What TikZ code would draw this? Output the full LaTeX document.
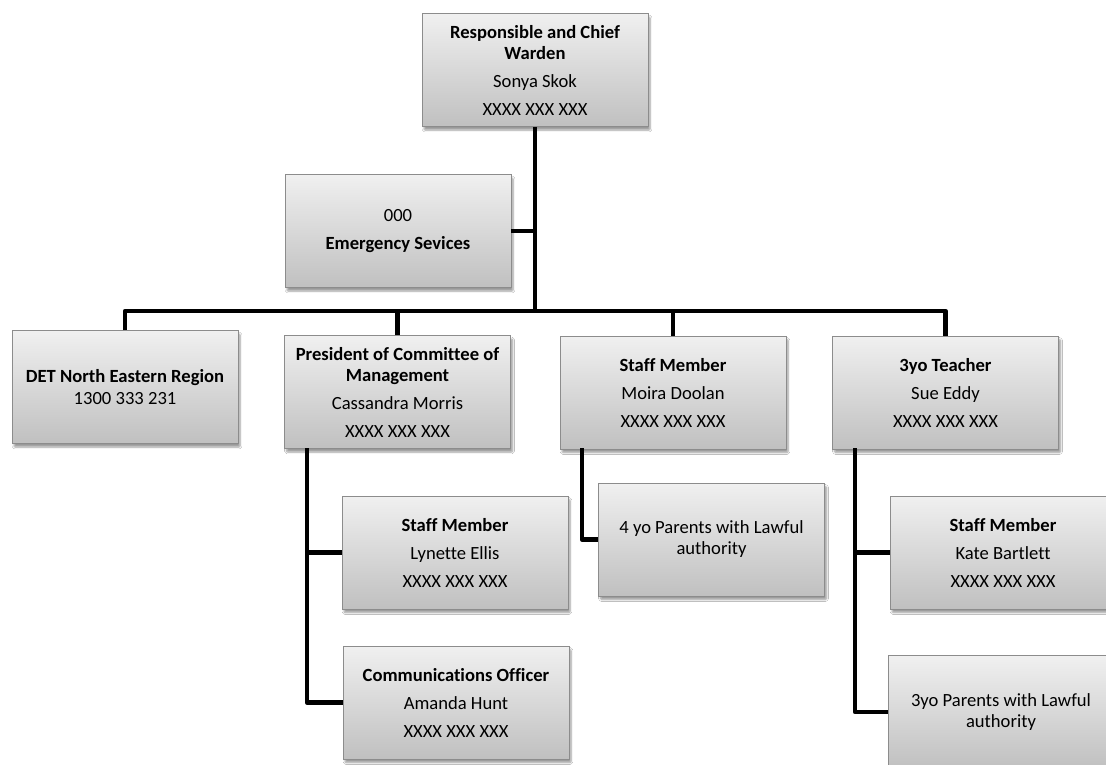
\documentclass[tikz,border=0pt]{standalone}
\usepackage{fontspec}
\setmainfont{Carlito}[Ligatures=NoCommon]
\usetikzlibrary{shadows.blur}
\definecolor{boxtop}{HTML}{F0F0F0}
\definecolor{boxbot}{HTML}{C0C0C0}
\definecolor{boxline}{HTML}{8C8C8C}
\tikzset{
  orgbox/.style={rectangle, minimum width=226pt, minimum height=113pt, inner sep=0pt,
    top color=boxtop, bottom color=boxbot, draw=boxline, line width=0.9pt,
    text width=224pt, align=flush center, font=\fontsize{18.6}{21}\selectfont,
    blur shadow={shadow xshift=2pt, shadow yshift=-3.5pt, shadow opacity=40, shadow blur steps=6, shadow blur extra rounding=1pt}},
  conn/.style={line width=4.5pt, line join=round, line cap=butt, black}
}
\begin{document}
\begin{tikzpicture}[x=1pt,y=-1pt]
\useasboundingbox (0,0) rectangle (1106,765);
\fill[white] (0,0) rectangle (1106,765);

\node[orgbox] (top) at (535,70) {\textbf{Responsible and Chief}\\\textbf{Warden}\\[7pt] Sonya Skok\\[7pt] XXXX XXX XXX};
\node[orgbox] (emer) at (398,231) {000\\[7pt] \textbf{Emergency Sevices}};
\node[orgbox] (det) at (125,387) {\textbf{DET North Eastern Region}\\[1pt] 1300 333 231};
\node[orgbox] (pres) at (397.5,392) {\textbf{President of Committee of}\\\textbf{Management}\\[7pt] Cassandra Morris\\[7pt] XXXX XXX XXX};
\node[orgbox] (moira) at (673,392.5) {\textbf{Staff Member}\\[7pt] Moira Doolan\\[7pt] XXXX XXX XXX};
\node[orgbox] (teach) at (945.5,392.5) {\textbf{3yo Teacher}\\[7pt] Sue Eddy\\[7pt] XXXX XXX XXX};
\node[orgbox] (lyn) at (455,552.5) {\textbf{Staff Member}\\[7pt] Lynette Ellis\\[7pt] XXXX XXX XXX};
\node[orgbox] (amanda) at (456,702.5) {\textbf{Communications Officer}\\[7pt] Amanda Hunt\\[7pt] XXXX XXX XXX};
\node[orgbox] (fouryo) at (711.5,539.5) {4 yo Parents with Lawful\\ authority};
\node[orgbox] (kate) at (1003,552.5) {\textbf{Staff Member}\\[7pt] Kate Bartlett\\[7pt] XXXX XXX XXX};
\node[orgbox] (threeyo) at (1001,712) {3yo Parents with Lawful\\ authority};

\coordinate (bus) at (535,311);
\coordinate (presdown) at (307,448);
\coordinate (moiradown) at (582,448);
\coordinate (teachdown) at (855,448);

\draw[conn] (top.south) -- (bus);
\draw[conn] (emer.east) -- (emer.east -| bus);
\draw[conn] (det.north) -- (det.north |- bus) -- (teach.north |- bus) -- (teach.north);
\draw[conn] (pres.north) -- (pres.north |- bus);
\draw[conn] (moira.north) -- (moira.north |- bus);

\draw[conn] (presdown) -- (presdown |- amanda.west) -- (amanda.west);
\draw[conn] (presdown |- lyn.west) -- (lyn.west);
\draw[conn] (moiradown) -- (moiradown |- fouryo.west) -- (fouryo.west);
\draw[conn] (teachdown) -- (teachdown |- threeyo.west) -- (threeyo.west);
\draw[conn] (teachdown |- kate.west) -- (kate.west);
\end{tikzpicture}
\end{document}
